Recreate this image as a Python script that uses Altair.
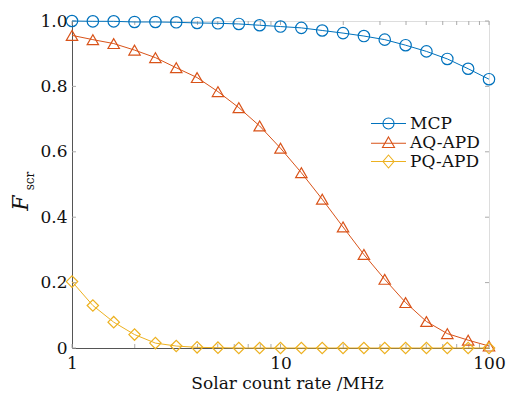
import altair as alt
import pandas as pd

rate = [1, 1.259, 1.585, 1.995, 2.512, 3.162, 3.981, 5.012, 6.310, 7.943,
        10, 12.59, 15.85, 19.95, 25.12, 31.62, 39.81, 50.12, 63.10, 79.43, 100]
mcp = [1.000, 0.999, 0.999, 0.997, 0.997, 0.996, 0.994, 0.993, 0.991, 0.987,
       0.983, 0.979, 0.971, 0.963, 0.954, 0.943, 0.926, 0.907, 0.884, 0.854, 0.822]
aq = [0.956, 0.943, 0.931, 0.911, 0.888, 0.857, 0.827, 0.784, 0.735, 0.679,
      0.611, 0.536, 0.455, 0.370, 0.286, 0.210, 0.139, 0.081, 0.044, 0.024, 0.006]
pq = [0.203, 0.130, 0.079, 0.041, 0.015, 0.006, 0.002, 0.001, 0, 0,
      0, 0, 0, 0, 0, 0, 0, 0, 0, 0, 0]
series = ["MCP", "AQ-APD", "PQ-APD"]
colors = ["#0072BD", "#D95319", "#EDB120"]
shapes = ["circle", "triangle-up", "diamond"]
legend_paths = [
    "M-2.5,0L2.5,0M-0.79,0A0.79,0.79,0,1,0,0.79,0A0.79,0.79,0,1,0,-0.79,0Z",
    "M-2.5,0.1L2.5,0.1M0,-0.79L0.86,0.71L-0.86,0.71Z",
    "M-2.5,0L2.5,0M0,-0.93L0.79,0L0,0.93L-0.79,0Z",
]
x_major = [1, 10, 100]
x_minor = [2, 3, 4, 5, 6, 7, 8, 9, 20, 30, 40, 50, 60, 70, 80, 90]
y_ticks = [0, 0.2, 0.4, 0.6, 0.8, 1.0]

rows = []
for name, vals in zip(series, [mcp, aq, pq]):
    for r, v in zip(rate, vals):
        rows.append({"rate": r, "F": v, "series": name})
df = pd.DataFrame(rows)

W, H = 417, 327
FONT = "DejaVu Serif"

xscale = alt.Scale(type="log", domain=[1, 100], nice=False)
yscale = alt.Scale(domain=[0, 1], nice=False)

xenc = alt.X("rate:Q", scale=xscale,
             axis=alt.Axis(values=x_major, format="d", ticks=False, grid=False,
                           labelFlush=False, labelOverlap=False,
                           domainColor="#555", labelFontSize=17, labelFont=FONT,
                           labelPadding=7, labelColor="#111",
                           title="Solar count rate /MHz", titleFont=FONT,
                           titleFontSize=17, titleFontWeight="normal",
                           titleColor="#111", titlePadding=4, titleX=215))
yenc = alt.Y("F:Q", scale=yscale,
             axis=alt.Axis(values=y_ticks, ticks=False, grid=False,
                           labelFlush=False, labelOverlap=False,
                           labelExpr="datum.value == 0 ? '0' : format(datum.value, '.1f')",
                           domainColor="#555", labelFontSize=17, labelFont=FONT,
                           labelPadding=5, labelColor="#111", title=None))

cscale = alt.Scale(domain=series, range=colors)

base = alt.Chart(df)
lines = base.mark_line(strokeWidth=1).encode(
    x=xenc, y=yenc,
    color=alt.Color("series:N", scale=cscale, legend=None),
    detail="series:N")
points = base.mark_point(filled=False, size=130, strokeWidth=1.2, opacity=1).encode(
    x="rate:Q", y="F:Q",
    color=alt.Color("series:N", scale=cscale, legend=None),
    shape=alt.Shape("series:N", scale=alt.Scale(domain=series, range=shapes), legend=None))

leg = alt.Legend(orient="none", legendX=308, legendY=94, title=None,
                 labelFont=FONT, labelFontSize=17, labelColor="#111",
                 symbolSize=196, symbolStrokeWidth=1.1, labelOffset=13,
                 rowPadding=1, padding=0, symbolFillColor="transparent")
legend_layer = base.mark_point(filled=False, opacity=1).encode(
    x="rate:Q", y="F:Q",
    color=alt.Color("series:N", scale=cscale, legend=leg),
    shape=alt.Shape("series:N", scale=alt.Scale(domain=series, range=legend_paths), legend=leg),
).transform_filter("false")

tick_color = "#aaa"
xt = pd.DataFrame({"v": x_major + x_minor})
yt = pd.DataFrame({"v": y_ticks})
bt = alt.Chart(xt).mark_rule(color=tick_color, strokeWidth=1).encode(
    x=alt.X("v:Q", scale=xscale), y=alt.value(H), y2=alt.value(H - 4))
tt = alt.Chart(xt).mark_rule(color=tick_color, strokeWidth=1).encode(
    x=alt.X("v:Q", scale=xscale), y=alt.value(0), y2=alt.value(4))
lt = alt.Chart(yt).mark_rule(color=tick_color, strokeWidth=1).encode(
    y=alt.Y("v:Q", scale=yscale), x=alt.value(0), x2=alt.value(4))
rt = alt.Chart(yt).mark_rule(color=tick_color, strokeWidth=1).encode(
    y=alt.Y("v:Q", scale=yscale), x=alt.value(W - 4), x2=alt.value(W))

tdf = pd.DataFrame({"t": ["F"]})
ytitle_f = alt.Chart(tdf).mark_text(text="F", angle=270, font=FONT, fontStyle="italic",
                                    fontSize=22, color="#111").encode(
    x=alt.value(-51), y=alt.value(182))
ytitle_s = alt.Chart(tdf).mark_text(text="scr", angle=270, font=FONT,
                                    fontSize=12, color="#111").encode(
    x=alt.value(-42), y=alt.value(160))

chart = alt.layer(bt, tt, lt, rt, lines, points, legend_layer, ytitle_f, ytitle_s).resolve_scale(
    color="independent", shape="independent"
).properties(
    width=W, height=H,
    autosize=alt.AutoSizeParams(type="none"),
    padding={"left": 72, "top": 21, "right": 21, "bottom": 45},
).configure_view(stroke="#555", strokeWidth=1).configure(background="white")

chart.save("out.html", embed_options={"renderer": "svg", "actions": False})
